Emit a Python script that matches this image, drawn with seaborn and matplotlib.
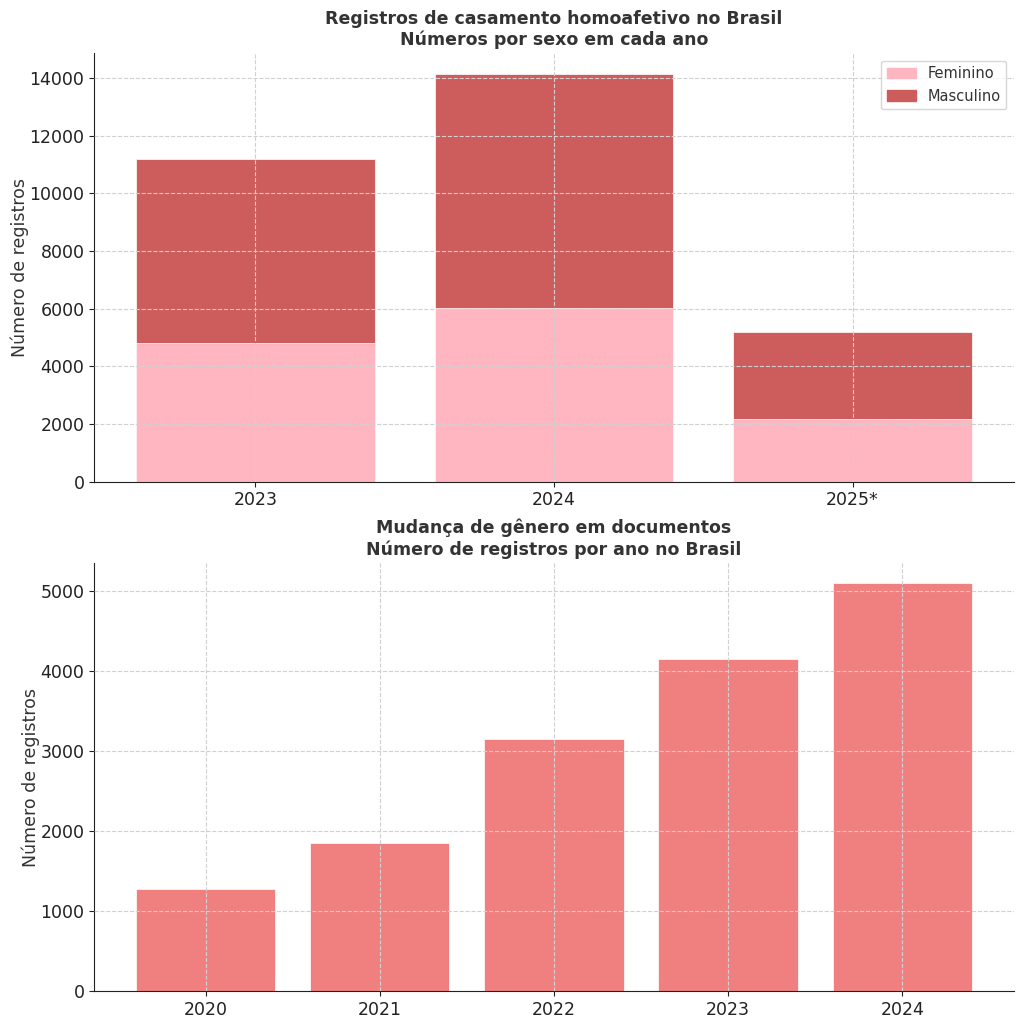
import pandas as pd
import seaborn as sns
import matplotlib.pyplot as plt
from matplotlib.patches import Patch

# -------------------- data -------------------- #

anos_casamento = ["2023", "2024", "2025*"]
feminino = [4820, 6030, 2180]
masculino = [6370, 8130, 3020]

anos_genero = ["2020", "2021", "2022", "2023", "2024"]
mudanca_genero = [1275, 1850, 3150, 4150, 5100]

# -------------------- style -------------------- #

sns.set_style("whitegrid", {
    "grid.linestyle": "--",
    "grid.color": "#d0d0d0",
    "axes.edgecolor": "#222222",
    "text.color": "#333333",
    "axes.labelcolor": "#333333",
    "xtick.color": "#222222",
    "ytick.color": "#222222",
})
plt.rcParams["font.family"] = ["DejaVu Sans"]
plt.rcParams["xtick.bottom"] = True
plt.rcParams["ytick.left"] = True

cor_fem = "#FFB6C1"
cor_masc = "#CD5C5C"
cor_gen = "#F08080"

fig, (ax1, ax2) = plt.subplots(2, 1, figsize=(10.24, 10.24), dpi=100)

# -------------------- casamentos (stacked) -------------------- #

casamento = pd.DataFrame({"ano": anos_casamento, "Feminino": feminino, "Masculino": masculino})
casamento["total"] = casamento["Feminino"] + casamento["Masculino"]

sns.barplot(data=casamento, x="ano", y="total", color=cor_masc, saturation=1,
            width=0.8, ax=ax1, edgecolor="white", linewidth=0.5)
sns.barplot(data=casamento, x="ano", y="Feminino", color=cor_fem, saturation=1,
            width=0.8, ax=ax1, edgecolor="white", linewidth=0.5)

ax1.set_title("Registros de casamento homoafetivo no Brasil\nNúmeros por sexo em cada ano",
              fontsize=12.5, fontweight="bold", color="#333333")
ax1.set_xlabel("")
ax1.set_ylabel("Número de registros", fontsize=12.5, labelpad=0)
ax1.set_yticks(range(0, 14001, 2000))
ax1.set_ylim(0, casamento["total"].max() * 1.05)
n1 = len(anos_casamento)
ax1.set_xlim(-0.4 - 0.05 * (n1 - 0.2), n1 - 0.6 + 0.05 * (n1 - 0.2))
ax1.legend(handles=[Patch(color=cor_fem, label="Feminino"), Patch(color=cor_masc, label="Masculino")],
           loc="upper right", fontsize=10.5, frameon=True, edgecolor="#cccccc", fancybox=True)

# -------------------- mudança de gênero -------------------- #

genero = pd.DataFrame({"ano": anos_genero, "registros": mudanca_genero})
sns.barplot(data=genero, x="ano", y="registros", color=cor_gen, saturation=1,
            width=0.8, ax=ax2, edgecolor="white", linewidth=0.5)

ax2.set_title("Mudança de gênero em documentos\nNúmero de registros por ano no Brasil",
              fontsize=12.5, fontweight="bold", color="#333333")
ax2.set_xlabel("")
ax2.set_ylabel("Número de registros", fontsize=12.5, labelpad=0)
ax2.set_yticks(range(0, 5001, 1000))
ax2.set_ylim(0, genero["registros"].max() * 1.05)
n2 = len(anos_genero)
ax2.set_xlim(-0.4 - 0.05 * (n2 - 0.2), n2 - 0.6 + 0.05 * (n2 - 0.2))

for ax in (ax1, ax2):
    ax.tick_params(labelsize=12.5)
    ax.grid(True, axis="both", linestyle="--", color="#d0d0d0", linewidth=0.8)
    ax.set_axisbelow(False)
    sns.despine(ax=ax)

plt.subplots_adjust(left=0.092, right=0.99, top=0.948, bottom=0.032, hspace=0.19)
plt.savefig("out.png", dpi=100)
